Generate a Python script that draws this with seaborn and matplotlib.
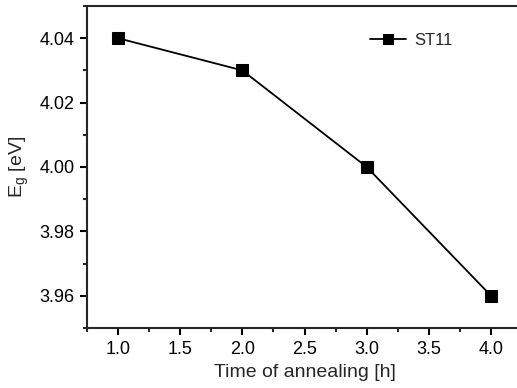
import matplotlib
matplotlib.use("Agg")
import matplotlib.pyplot as plt
import seaborn as sns
import pandas as pd
from matplotlib.ticker import MultipleLocator

time_h = [1.0, 2.0, 3.0, 4.0]
eg_ev = [4.04, 4.03, 4.00, 3.96]
series = "ST11"

sns.set_style("ticks")
plt.rcParams['font.family'] = ['Liberation Sans', 'DejaVu Sans']
plt.rcParams['mathtext.fontset'] = 'custom'
plt.rcParams['mathtext.rm'] = 'Liberation Sans'

df = pd.DataFrame({"t": time_h, "eg": eg_ev, "s": [series] * len(time_h)})

fig = plt.figure(figsize=(5.17, 3.88), dpi=100)
ax = fig.add_axes([0.168, 0.1546, 0.842, 0.830])
sns.lineplot(data=df, x="t", y="eg", hue="s", palette=["black"], marker="s",
             markersize=9, markeredgecolor="black", linewidth=1.3, ax=ax)

ax.set_xlim(0.75, 4.25)
ax.set_ylim(3.95, 4.05)
ax.xaxis.set_major_locator(MultipleLocator(0.5))
ax.xaxis.set_minor_locator(MultipleLocator(0.25))
ax.yaxis.set_major_locator(MultipleLocator(0.02))
ax.yaxis.set_minor_locator(MultipleLocator(0.01))
ax.xaxis.set_major_formatter(matplotlib.ticker.FormatStrFormatter('%.1f'))
ax.yaxis.set_major_formatter(matplotlib.ticker.FormatStrFormatter('%.2f'))

for side in ["left", "bottom", "top"]:
    ax.spines[side].set_linewidth(1.5)
    ax.spines[side].set_visible(True)
ax.spines["right"].set_visible(False)
ax.tick_params(axis='both', which='major', direction='out', length=5, width=1.5,
               labelsize=13, colors='black', top=False, right=False, pad=4)
ax.tick_params(axis='both', which='minor', direction='out', length=3, width=1.5,
               top=False, right=False)

ax.set_xlabel("Time of annealing [h]", fontsize=14, labelpad=5)
ax.set_ylabel(r"E$_\mathrm{g}$ [eV]", fontsize=14, labelpad=6)

leg = ax.legend(loc="upper left", bbox_to_anchor=(0.615, 0.962), frameon=False,
                fontsize=12, handlelength=2.2, handletextpad=0.5)
for h in leg.legend_handles:
    h.set_markersize(7)

fig.savefig("out.png", dpi=100)
